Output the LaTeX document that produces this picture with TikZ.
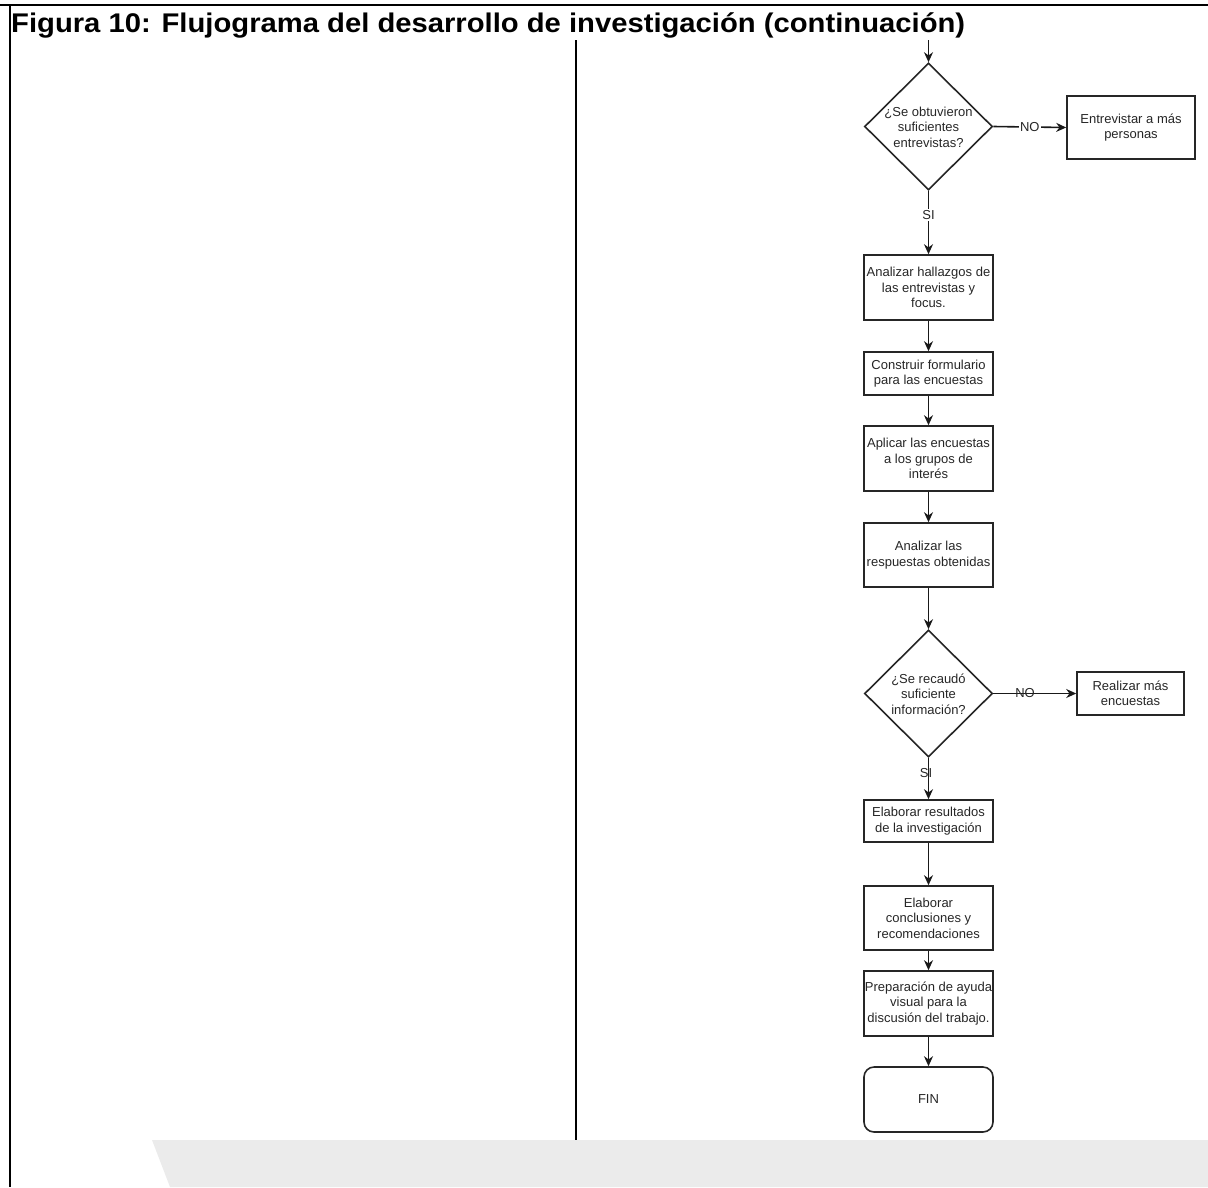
\documentclass[tikz,border=0pt]{standalone}
\usepackage{fontspec}
\setmainfont{Liberation Sans}
\usetikzlibrary{shapes.geometric,arrows.meta}
\begin{document}
\begin{tikzpicture}[x=1pt,y=-1pt,
  box/.style={draw=black!85, line width=1.6pt, minimum width=129pt, align=center, inner sep=0pt, text=black!85, font=\fontsize{13}{15.5}\selectfont},
  dec/.style={draw=black!85, diamond, line width=1.6pt, minimum width=128pt, minimum height=127pt, inner sep=0pt},
  txt/.style={font=\fontsize{13}{15.5}\selectfont, text=black!85, align=center, inner sep=1pt},
  arr/.style={draw=black!90, line width=1.6pt, -{Stealth[length=10pt,width=9pt]}},
  frame/.style={line width=2.5pt, draw=black}
  ]
\useasboundingbox (0,0) rectangle (1208,1187);
% watermark band
\fill[black!8] (152,1140) -- (1208,1140) -- (1208,1187) -- (170,1187) -- cycle;
% frame
\draw[frame] (0,5) -- (1208,5);
\draw[frame] (10,5) -- (10,1187);
\draw[line width=1.8pt] (576,40) -- (576,1140);
% title
\node[anchor=base west, inner sep=0pt] (title) at (11,32)
  {\scalebox{1.082}[1]{\fontsize{27}{32}\selectfont\bfseries Figura 10: Flujograma del desarrollo de investigación (continuación)}};

% nodes
\coordinate (start) at (928.5,40);
\node[dec] (d1) at (928.5,126.5) {};
\node[txt] (d1t) at (928.5,127) {¿Se obtuvieron\\suficientes\\entrevistas?};
\node[box, minimum width=128pt, minimum height=63pt] (e1) at (1131,127.5) {Entrevistar a más\\personas};
\node[box, minimum height=65pt] (b1) at (928.5,287.5) {Analizar hallazgos de\\las entrevistas y\\focus.};
\node[box, minimum height=43pt] (b2) at (928.5,373.5) {Construir formulario\\para las encuestas};
\node[box, minimum height=65pt] (b3) at (928.5,458.5) {Aplicar las encuestas\\a los grupos de\\interés};
\node[box, minimum height=64pt] (b4) at (928.5,555) {Analizar las\\respuestas obtenidas};
\node[dec] (d2) at (928.5,693.5) {};
\node[txt] (d2t) at (928.5,694) {¿Se recaudó\\suficiente\\información?};
\node[box, minimum width=107pt, minimum height=43pt] (r1) at (1130.5,693.5) {Realizar más\\encuestas};
\node[box, minimum height=42pt] (b5) at (928.5,821) {Elaborar resultados\\de la investigación};
\node[box, minimum height=64pt] (b6) at (928.5,918) {Elaborar\\conclusiones y\\recomendaciones};
\node[box, minimum height=65pt] (b7) at (928.5,1003.5) {Preparación de ayuda\\visual para la\\discusión del trabajo.};
\node[box, rounded corners=10pt, minimum height=65pt] (fin) at (928.5,1099.5) {FIN};

% connectors
\draw[arr] (start) -- (d1.north);
\draw[arr] (d1.east) -- node[txt, fill=white, inner sep=1pt] (no1) {NO} (e1.west);
\draw[arr] (d1.south) -- node[txt, fill=white, inner sep=1pt, pos=0.38] (si1) {SI} (b1.north);
\draw[arr] (b1) -- (b2);
\draw[arr] (b2) -- (b3);
\draw[arr] (b3) -- (b4);
\draw[arr] (b4) -- (d2.north);
\draw[arr] (d2.east) -- (r1.west);
\node[txt] (no2) at (1025,693.5) {NO};
\draw[arr] (d2.south) -- (b5.north);
\node[txt] (si2) at (926,773) {SI};
\draw[arr] (b5) -- (b6);
\draw[arr] (b6) -- (b7);
\draw[arr] (b7) -- (fin);
\end{tikzpicture}
\end{document}
